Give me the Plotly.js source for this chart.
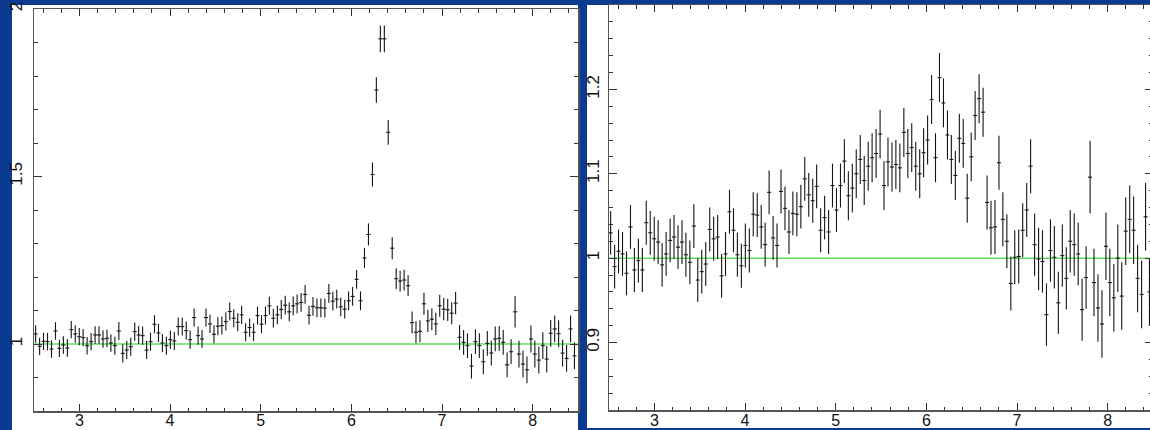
<!DOCTYPE html>
<html>
<head>
<meta charset="utf-8">
<script src="https://cdn.plot.ly/plotly-3.0.1.min.js"></script>
<style>
html,body{margin:0;padding:0;overflow:hidden;background:#0a3b91;}
#chart{width:1160px;height:430px;}
</style>
</head>
<body>
<div id="chart"></div>
<script>
// Energy bin centres (keV), shared by both panels
const energy = [2.518,2.562,2.605,2.649,2.693,2.737,2.780,2.824,2.868,2.911,2.955,2.999,3.042,3.086,3.130,3.174,3.217,3.261,3.305,3.348,3.392,3.436,3.479,3.523,3.567,3.611,3.654,3.698,3.742,3.785,3.829,3.873,3.916,3.960,4.004,4.048,4.091,4.135,4.179,4.222,4.266,4.310,4.353,4.397,4.441,4.485,4.528,4.572,4.616,4.659,4.703,4.747,4.790,4.834,4.878,4.922,4.965,5.009,5.053,5.096,5.140,5.184,5.227,5.271,5.315,5.359,5.402,5.446,5.490,5.533,5.577,5.621,5.664,5.708,5.752,5.796,5.839,5.883,5.927,5.970,6.014,6.058,6.101,6.145,6.189,6.233,6.276,6.320,6.364,6.407,6.451,6.495,6.538,6.582,6.626,6.670,6.713,6.757,6.801,6.844,6.888,6.932,6.975,7.019,7.063,7.107,7.150,7.194,7.238,7.281,7.325,7.369,7.412,7.456,7.500,7.544,7.587,7.631,7.675,7.718,7.762,7.806,7.849,7.893,7.937,7.981,8.024,8.068,8.112,8.155,8.199,8.243,8.286,8.330,8.374,8.418,8.461];
const binHalfWidth = 0.022;

// Left panel: data/model ratio
const ratioLeft = [1.03,0.993,1.008,1.007,0.985,1.039,0.987,0.997,0.988,1.043,1.03,1.022,1.019,0.995,1.007,1.027,1.027,1.015,1.017,1.003,0.995,1.039,0.972,0.982,0.992,1.037,1.027,1.025,0.982,1.007,1.059,1.033,1.003,0.995,1.013,1.009,1.052,1.052,1.04,1.013,1.079,1.025,1.015,1.079,1.06,1.029,1.053,1.055,1.067,1.097,1.077,1.065,1.087,1.035,1.049,1.035,1.085,1.059,1.085,1.114,1.077,1.087,1.103,1.116,1.096,1.114,1.12,1.124,1.148,1.086,1.112,1.108,1.108,1.107,1.151,1.128,1.134,1.111,1.104,1.129,1.142,1.193,1.129,1.257,1.327,1.506,1.758,1.911,1.911,1.632,1.286,1.195,1.188,1.191,1.174,1.064,1.035,1.038,1.12,1.069,1.074,1.06,1.114,1.104,1.102,1.092,1.122,1.02,1.005,0.995,0.934,1.007,0.995,0.947,1.002,0.973,1.015,1.017,1.005,0.938,0.977,1.096,0.97,0.94,0.923,1.015,0.97,0.952,0.995,0.955,1.032,1.045,1.031,0.973,0.957,1.045,0.965];
const errLeft = [0.026,0.026,0.026,0.026,0.026,0.026,0.026,0.026,0.026,0.026,0.026,0.026,0.026,0.026,0.026,0.026,0.026,0.026,0.026,0.026,0.027,0.027,0.027,0.027,0.027,0.027,0.027,0.027,0.027,0.027,0.027,0.027,0.027,0.027,0.027,0.027,0.027,0.027,0.027,0.027,0.027,0.027,0.027,0.027,0.027,0.027,0.027,0.027,0.027,0.027,0.027,0.027,0.027,0.027,0.027,0.027,0.027,0.027,0.027,0.027,0.028,0.028,0.028,0.028,0.028,0.028,0.028,0.028,0.028,0.028,0.028,0.028,0.028,0.028,0.028,0.028,0.028,0.028,0.028,0.028,0.028,0.028,0.028,0.030,0.033,0.036,0.038,0.040,0.040,0.037,0.033,0.031,0.031,0.031,0.031,0.033,0.033,0.033,0.033,0.033,0.033,0.033,0.033,0.033,0.033,0.033,0.033,0.037,0.037,0.037,0.037,0.037,0.037,0.037,0.037,0.037,0.037,0.037,0.037,0.037,0.037,0.047,0.040,0.040,0.040,0.040,0.040,0.040,0.040,0.040,0.040,0.040,0.040,0.040,0.040,0.040,0.040];

// Right panel: data/model ratio (model including line)
const ratioRight = [1.03,0.990,1.008,1.005,0.982,1.037,0.986,0.997,0.986,1.042,1.030,1.023,1.019,0.992,1.005,1.021,1.025,1.013,1.019,1.004,0.995,1.038,0.974,0.984,0.993,1.034,1.023,1.025,0.979,1.005,1.055,1.033,1.004,0.991,1.015,1.009,1.052,1.051,1.037,1.016,1.078,1.024,1.015,1.079,1.059,1.031,1.053,1.052,1.061,1.094,1.075,1.068,1.085,1.033,1.048,1.031,1.086,1.057,1.086,1.115,1.074,1.083,1.100,1.117,1.092,1.109,1.119,1.124,1.147,1.086,1.114,1.108,1.111,1.107,1.149,1.124,1.131,1.109,1.100,1.125,1.140,1.188,1.119,1.214,1.184,1.146,1.117,1.098,1.142,1.136,1.071,1.120,1.169,1.189,1.173,1.066,1.036,1.037,1.113,1.046,1.020,0.970,1.001,1.002,1.033,1.057,1.109,1.016,0.999,0.996,0.933,1.009,1.001,0.947,1.003,0.976,1.020,1.016,1.005,0.939,0.977,1.096,0.971,0.941,0.922,1.014,0.971,0.953,1.000,0.955,1.032,1.046,1.033,0.976,0.957,1.049,0.960];
const errRight = [0.026,0.026,0.026,0.026,0.026,0.026,0.026,0.026,0.026,0.026,0.026,0.026,0.026,0.026,0.026,0.026,0.026,0.026,0.026,0.026,0.026,0.026,0.026,0.026,0.026,0.026,0.026,0.026,0.026,0.026,0.026,0.026,0.026,0.026,0.026,0.026,0.026,0.026,0.026,0.026,0.026,0.026,0.026,0.026,0.026,0.026,0.026,0.026,0.026,0.026,0.026,0.026,0.026,0.026,0.026,0.026,0.026,0.026,0.026,0.026,0.029,0.029,0.029,0.029,0.029,0.029,0.029,0.029,0.029,0.029,0.029,0.029,0.029,0.029,0.029,0.029,0.029,0.029,0.029,0.029,0.029,0.029,0.029,0.029,0.029,0.029,0.029,0.029,0.029,0.029,0.029,0.029,0.029,0.029,0.029,0.032,0.032,0.032,0.032,0.032,0.032,0.032,0.032,0.032,0.032,0.032,0.032,0.037,0.037,0.037,0.037,0.037,0.037,0.037,0.037,0.037,0.037,0.037,0.037,0.037,0.037,0.043,0.040,0.040,0.040,0.040,0.040,0.040,0.040,0.040,0.040,0.040,0.040,0.040,0.040,0.040,0.040];

const W = 1160, H = 430;
const ink = '#151515';
function trace(y, e, xa, ya){
  return {
    x: energy, y: y, xaxis: xa, yaxis: ya,
    type: 'scatter', mode: 'markers',
    marker: {size: 1, color: 'rgba(0,0,0,0)', line: {width: 0}},
    error_y: {type: 'data', array: e, visible: true, thickness: 1.1, width: 0, color: ink},
    error_x: {type: 'constant', value: binHalfWidth, visible: true, thickness: 1.1, width: 0, color: ink},
    hoverinfo: 'skip', showlegend: false
  };
}

const tfx = {family: 'Liberation Sans, Arial, sans-serif', size: 16, color: '#111'};
const tfy = {family: 'Liberation Sans, Arial, sans-serif', size: 17, color: '#111'};
function xax(domain, anchor, standoff){
  return {domain: domain, anchor: anchor, range: [2.5, 8.5], dtick: 1, tick0: 0,
    ticks: 'inside', ticklen: 7, tickwidth: 1, tickcolor: '#333',
    minor: {dtick: 0.2, tick0: 0, ticks: 'inside', ticklen: 3.5, tickwidth: 1, tickcolor: '#333'},
    showline: true, linecolor: '#555', linewidth: 1.5, mirror: 'allticks',
    showgrid: false, zeroline: false, tickfont: tfx, ticklabelstandoff: standoff, fixedrange: true};
}
function yax(domain, anchor, range, dtick, mdtick, standoff){
  return {domain: domain, anchor: anchor, range: range, dtick: dtick, tick0: 0,
    ticks: 'inside', ticklen: 8, tickwidth: 1, tickcolor: '#333',
    minor: {dtick: mdtick, tick0: 0, ticks: 'inside', ticklen: 4, tickwidth: 1, tickcolor: '#333'},
    showline: true, linecolor: '#555', linewidth: 1.5, mirror: 'allticks',
    showgrid: false, zeroline: false, tickfont: tfy, tickangle: -90,
    ticklabelstandoff: standoff, fixedrange: true};
}

const layout = {
  width: W, height: H,
  margin: {l: 0, r: 0, t: 0, b: 0, pad: 0},
  paper_bgcolor: '#0a3b91', plot_bgcolor: '#ffffff',
  showlegend: false,
  xaxis: xax([34/W, 578/W], 'y', -6),
  yaxis: yax([1 - 411/H, 1 - 9/H], 'x', [0.8, 2.0], 0.5, 0.1, 4),
  xaxis2: xax([609/W, 1153/W], 'y2', -5),
  yaxis2: yax([1 - 410/H, 1 - 5/H], 'x2', [0.82, 1.3], 0.1, 0.02, 2),
  shapes: [
    {type: 'rect', xref: 'paper', yref: 'paper', x0: 12/W, x1: 578/W, y0: 0, y1: 1 - 5/H, fillcolor: '#ffffff', line: {width: 0}, layer: 'below'},
    {type: 'rect', xref: 'paper', yref: 'paper', x0: 587/W, x1: 1, y0: 1 - 428/H, y1: 1 - 5/H, fillcolor: '#ffffff', line: {width: 0}, layer: 'below'},
    {type: 'line', xref: 'x', yref: 'y', x0: 2.5, x1: 8.5, y0: 1, y1: 1, line: {color: '#5ee05e', width: 1.5}, layer: 'below'},
    {type: 'line', xref: 'x2', yref: 'y2', x0: 2.5, x1: 8.5, y0: 1, y1: 1, line: {color: '#5ee05e', width: 1.5}, layer: 'below'}
  ]
};

Plotly.newPlot('chart', [trace(ratioLeft, errLeft, 'x', 'y'), trace(ratioRight, errRight, 'x2', 'y2')], layout, {staticPlot: true, displayModeBar: false});
</script>
</body>
</html>
